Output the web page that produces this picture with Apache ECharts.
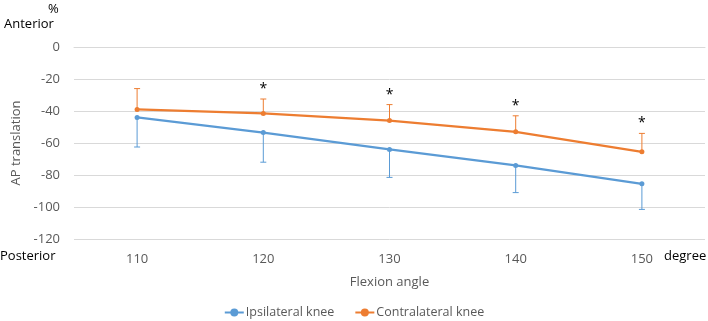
<!DOCTYPE html>
<html>
<head>
<meta charset="utf-8">
<script src="https://cdn.jsdelivr.net/npm/echarts@6/dist/echarts.min.js"></script>
<style>
  html, body { margin: 0; padding: 0; background: #fff; }
  #chart { width: 708px; height: 321px; }
</style>
</head>
<body>
<div id="chart"></div>
<script>
// flexion angle (degree)
const angles = ['110', '120', '130', '140', '150']
// AP translation (%), mean and SD
const ipsiMean = [-44, -53.5, -64, -74, -85.5]
const ipsiSD = [18.5, 18.5, 17.5, 17, 16]
const contraMean = [-39, -41.5, -46, -53, -65.5]
const contraSD = [13, 9, 10, 10, 11.5]
// significant difference marks
const signif = [false, true, true, true, true]

const BLUE = '#5B9BD5'
const ORANGE = '#ED7D31'
const FONT = 'Open Sans'

// dir: -1 draws the bar down, 1 draws it up
function errData(mean, sd, dir) {
  let out = []
  for (let i = 0; i < mean.length; i++) {
    out.push([i, mean[i], mean[i] + dir * sd[i], signif[i] ? 1 : 0])
  }
  return out
}

function errRender(color, withStar) {
  return function (params, api) {
    let p0 = api.coord([api.value(0), api.value(1)])
    let p1 = api.coord([api.value(0), api.value(2)])
    let kids = [
      { type: 'line', shape: { x1: p0[0], y1: p0[1], x2: p1[0], y2: p1[1] }, style: { stroke: color, lineWidth: 1 } },
      { type: 'line', shape: { x1: p1[0] - 3, y1: p1[1], x2: p1[0] + 3, y2: p1[1] }, style: { stroke: color, lineWidth: 1 } }
    ]
    if (withStar && api.value(3)) {
      kids.push({
        type: 'text',
        x: p1[0], y: p1[1] - 3,
        style: { text: '*', fill: '#000', font: '14px "' + FONT + '"', align: 'center', verticalAlign: 'bottom' }
      })
    }
    return { type: 'group', children: kids }
  }
}

let mychart = echarts.init(document.getElementById('chart'))
let option = {
  animation: false,
  textStyle: { fontFamily: FONT },
  grid: { left: 74, right: 3, top: 47, bottom: 82 },
  xAxis: {
    type: 'category',
    data: angles,
    name: 'Flexion angle',
    nameLocation: 'middle',
    nameGap: 37,
    nameTextStyle: { color: '#595959', fontSize: 13 },
    axisLine: { lineStyle: { color: '#D9D9D9' } },
    axisTick: { show: false },
    axisLabel: { color: '#595959', fontSize: 13, margin: 14 }
  },
  yAxis: {
    type: 'value',
    min: -120,
    max: 0,
    interval: 20,
    name: 'AP translation',
    nameLocation: 'middle',
    nameGap: 50,
    nameTextStyle: { color: '#595959', fontSize: 13 },
    axisLine: { show: false },
    axisTick: { show: false },
    axisLabel: { color: '#595959', fontSize: 13, margin: 14 },
    splitLine: { lineStyle: { color: '#D9D9D9' } }
  },
  legend: {
    top: 301,
    left: 'center',
    itemWidth: 19,
    itemHeight: 10,
    itemGap: 20,
    data: ['Ipsilateral knee', 'Contralateral knee'],
    textStyle: { color: '#595959', fontSize: 12.5, padding: [0, 0, 0, -3] }
  },
  graphic: [
    { type: 'text', left: 48, top: 3, style: { text: '%', fill: '#000', font: '13px "' + FONT + '"' } },
    { type: 'text', left: 4, top: 18, style: { text: 'Anterior', fill: '#000', font: '13px "' + FONT + '"' } },
    { type: 'text', left: 0, top: 250, style: { text: 'Posterior', fill: '#000', font: '13px "' + FONT + '"' } },
    { type: 'text', left: 664, top: 250, style: { text: 'degree', fill: '#000', font: '13px "' + FONT + '"' } }
  ],
  series: [
    {
      name: 'Ipsilateral knee',
      type: 'line',
      data: ipsiMean,
      symbol: 'circle',
      symbolSize: 5,
      lineStyle: { color: BLUE, width: 2.25 },
      itemStyle: { color: BLUE }
    },
    {
      name: 'Contralateral knee',
      type: 'line',
      data: contraMean,
      symbol: 'circle',
      symbolSize: 5,
      lineStyle: { color: ORANGE, width: 2.25 },
      itemStyle: { color: ORANGE }
    },
    {
      type: 'custom',
      renderItem: errRender(BLUE, false),
      data: errData(ipsiMean, ipsiSD, -1),
      z: 1
    },
    {
      type: 'custom',
      renderItem: errRender(ORANGE, true),
      data: errData(contraMean, contraSD, 1),
      z: 1
    }
  ]
}
mychart.setOption(option)
</script>
</body>
</html>
